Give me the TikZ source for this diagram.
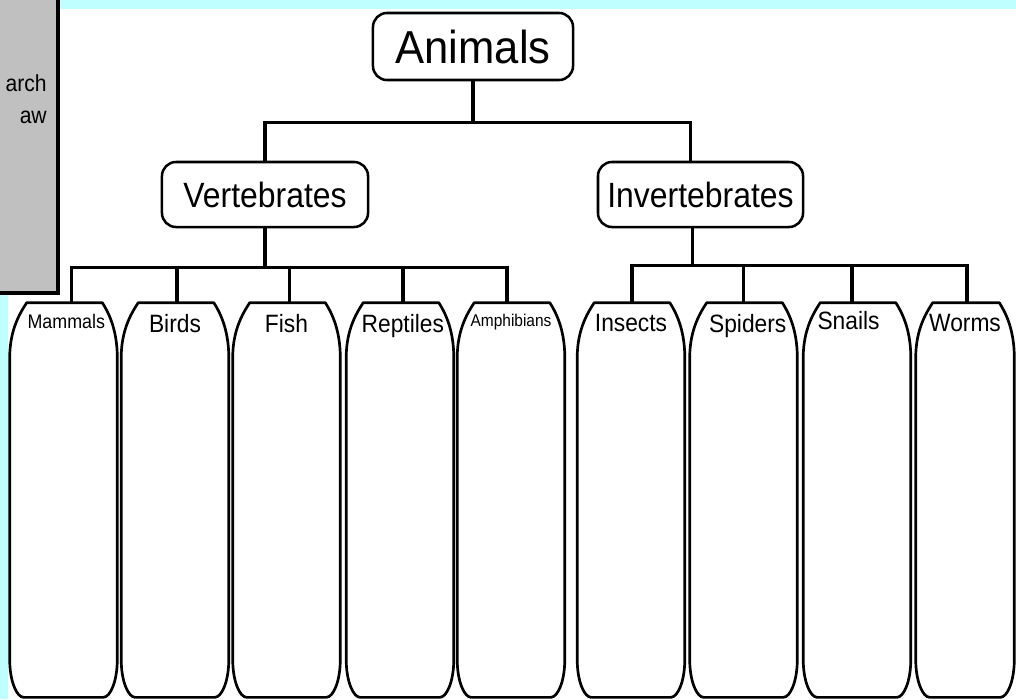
\documentclass[tikz,border=0pt]{standalone}
\usepackage{fontspec}
\setmainfont{Liberation Sans}
\usetikzlibrary{calc}
\definecolor{sky}{HTML}{C0FFFF}
\definecolor{panel}{HTML}{C0C0C0}
\newcommand{\tall}[1]{\scalebox{1}[1.1]{#1}}
\tikzset{conn/.style={line width=2.2pt,draw=black},
  box/.style={rounded corners=0.35cm,draw=black,line width=1.8pt,fill=white,inner sep=0pt},
  topbox/.style={box,minimum width=5cm,minimum height=1.675cm,font=\fontsize{31}{36}\selectfont},
  groupbox/.style={box,minimum height=1.625cm,font=\fontsize{22.7}{27}\selectfont},
  jar/.style={rectangle,inner sep=0pt,minimum width=2.675cm,minimum height=9.85cm},
  jarlbl/.style={anchor=north,inner sep=0pt,yshift=-8pt,font=\fontsize{16.2}{19}\selectfont},
  jarline/.style={line width=1.9pt,line join=round}}
\newcommand{\jaroutline}[1]{%
  \draw[jarline] ($(#1.north west)+(17,0)$) -- ($(#1.north east)+(-15,0)$)
    .. controls +(5,8) and +(0,-30) .. ($(#1.north east)+(0,55)$)
    -- ($(#1.south east)+(0,-38)$)
    .. controls +(0,22) and +(7,0) .. ($(#1.south east)+(-14,0)$)
    -- ($(#1.south west)+(14,0)$)
    .. controls +(-7,0) and +(0,22) .. ($(#1.south west)+(0,-38)$)
    -- ($(#1.north west)+(0,55)$)
    .. controls +(0,-30) and +(-5,8) .. ($(#1.north west)+(17,0)$) -- cycle;}

\begin{document}
\begin{tikzpicture}[x=0.025cm,y=-0.025cm]
\useasboundingbox (0,0) rectangle (1016,699);
% backdrop and side panel
\fill[sky] (0,0) rectangle (1016,699);
\fill[white] (8,9) rectangle (1016,699);
\fill[panel] (0,0) rectangle (60,295);
\draw[line width=3.4pt] (58,0) |- (0,293);
\node[anchor=north east,align=right,inner sep=0pt,font=\fontsize{15}{22.8}\selectfont] (sidenote) at (47,74) {\tall{arch}\\\tall{aw}};
% top levels
\node[topbox] (animals) at (473,46.5) {\scalebox{1}[1.06]{Animals}};
\node[groupbox,minimum width=5.15cm] (vert) at (265,194.5) {\tall{Vertebrates}};
\node[groupbox,minimum width=5.125cm] (invert) at (700.5,194.5) {\tall{Invertebrates}};
% columns
\node[jar,label={[jarlbl,xshift=2pt,font=\fontsize{12.7}{15}\selectfont]north:\tall{Mammals}}] (mammals) at (63.5,500) {};
\node[jar,label={[jarlbl]north:\tall{Birds}}] (birds) at (175,500) {};
\node[jar,label={[jarlbl]north:\tall{Fish}}] (fish) at (286.5,500) {};
\node[jar,label={[jarlbl,xshift=2pt]north:\tall{Reptiles}}] (reptiles) at (400,500) {};
\node[jar,label={[jarlbl,font=\fontsize{11}{13}\selectfont]north:\tall{Amphibians}}] (amphib) at (511,500) {};
\node[jar,label={[jarlbl]north:\tall{Insects}}] (insects) at (631,500) {};
\node[jar,label={[jarlbl,xshift=3pt]north:\tall{Spiders}}] (spiders) at (743.5,500) {};
\node[jar,label={[jarlbl,xshift=-6pt,yshift=2pt]north:\tall{Snails}}] (snails) at (857,500) {};
\node[jar,minimum width=2.45cm,label={[jarlbl]north:\tall{Worms}}] (worms) at (965,500) {};
\foreach \n in {mammals,birds,fish,reptiles,amphib,insects,spiders,snails,worms}
  \jaroutline{\n};
% connectors
\draw[conn] (animals.south) -- ++(0,41) coordinate (abar);
\draw[conn] (vert.north) |- (abar) -| ($(invert.north)+(-10,0)$);
\draw[conn] (vert.south) -- ++(0,39) coordinate (vbar);
\foreach \n/\dx in {mammals/8,birds/2,fish/3,reptiles/3,amphib/-4}
  \draw[conn] ($(\n.north)+(\dx,0)$) |- (vbar);
\draw[conn] ($(invert.south)+(-8,0)$) -- ++(0,37) coordinate (ibar);
\foreach \n/\dx in {insects/1,spiders/0,snails/-5,worms/2}
  \draw[conn] ($(\n.north)+(\dx,0)$) |- (ibar);
\end{tikzpicture}
\end{document}
